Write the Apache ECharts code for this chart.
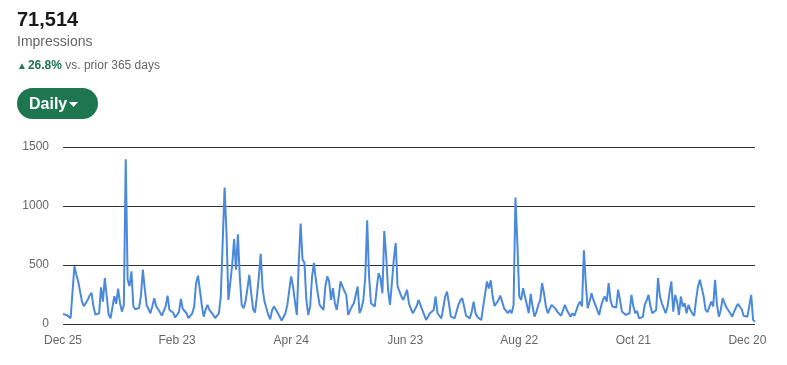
<!DOCTYPE html>
<html>
<head>
<meta charset="utf-8">
<script src="https://cdn.jsdelivr.net/npm/echarts@6/dist/echarts.min.js"></script>
<style>
html,body{margin:0;padding:0;background:#fff;}
#c{width:787px;height:365px;}
</style>
</head>
<body>
<div id="c"></div>
<script>
// Daily impressions, Dec 25 → Dec 24 (365 days)
const startDate = [2022, 11, 25];
const impressions = [
  85,91,75,62,50,48,489,420,360,345,
  190,150,155,205,240,265,150,80,68,90,
  310,190,390,235,80,48,60,235,170,300,
  176,105,160,1397,375,320,446,150,125,130,
  135,240,460,300,160,148,91,150,219,153,
  150,100,71,75,150,241,119,110,95,55,
  48,100,213,128,110,91,50,48,90,148,
  346,409,290,162,62,119,162,120,99,77,
  50,40,90,233,220,1156,772,204,350,500,
  720,460,760,400,162,133,190,300,417,261,
  125,97,233,400,595,300,190,182,77,40,
  119,148,120,125,62,30,60,91,162,165,
  403,318,190,77,517,852,545,520,204,77,
  148,400,517,375,261,162,140,119,318,403,
  361,204,304,176,119,233,361,318,280,247,
  77,77,150,176,190,318,91,133,204,400,
  880,403,176,170,148,300,432,389,261,787,
  574,290,162,346,545,687,318,318,233,204,
  247,290,170,170,90,77,150,204,219,119,
  77,34,50,91,91,119,233,91,70,48,
  133,233,275,176,62,55,48,50,162,200,
  219,148,71,55,48,105,190,91,60,48,
  34,148,250,361,300,370,233,153,153,200,
  241,190,133,120,91,119,91,162,1071,687,
  233,204,304,233,162,91,256,148,62,100,
  162,200,346,261,150,91,77,162,150,130,
  105,91,70,62,162,119,91,62,91,68,
  62,162,190,150,625,346,133,190,261,204,
  162,162,77,148,204,233,190,346,200,148,
  133,140,290,204,105,91,77,85,91,247,
  150,91,110,48,34,60,162,200,247,150,
  91,100,119,389,233,176,176,91,148,261,
  361,105,247,190,77,233,148,176,91,162,
  119,90,68,204,318,375,361,233,119,100,
  91,190,148,375,162,62,119,219,176,140,
  133,91,62,105,140,170,148,125,70,62,
  62,60,247,34,20
];
const tickLabels = ['Dec 25','Feb 23','Apr 24','Jun 23','Aug 22','Oct 21','Dec 20'];
const tickEvery = 60;
const yTicks = [0, 500, 1000, 1500];
const headline = '71,514';
const metricName = 'Impressions';
const change = '26.8%';
const changeText = ' vs. prior 365 days';
const buttonText = 'Daily';

const months = ['Jan','Feb','Mar','Apr','May','Jun','Jul','Aug','Sep','Oct','Nov','Dec'];
const categories = impressions.map((_, i) => {
  const d = new Date(startDate[0], startDate[1], startDate[2] + i);
  return months[d.getMonth()] + ' ' + d.getDate();
});

const FONT = '"Liberation Sans", Arial, Helvetica, sans-serif';
const GREEN = '#1d7650';

const chart = echarts.init(document.getElementById('c'), null, {renderer: 'canvas'});
chart.setOption({
  animation: false,
  backgroundColor: '#ffffff',
  textStyle: {fontFamily: FONT},
  grid: {left: 63, right: 32, top: 147, bottom: 41},
  xAxis: {
    type: 'category',
    data: categories,
    boundaryGap: false,
    axisLine: {show: false},
    axisTick: {show: false},
    splitLine: {show: false},
    axisLabel: {
      interval: (i) => i % tickEvery === 0,
      formatter: (v, i) => tickLabels[Math.round(i / tickEvery)] || v,
      color: '#666666',
      fontSize: 12,
      fontFamily: FONT,
      margin: 11
    }
  },
  yAxis: {
    type: 'value',
    min: yTicks[0],
    max: yTicks[yTicks.length - 1],
    interval: yTicks[1] - yTicks[0],
    axisLine: {show: false},
    axisTick: {show: false},
    splitLine: {show: true, lineStyle: {color: '#333333', width: 1}},
    axisLabel: {color: '#666666', fontSize: 12, fontFamily: FONT, margin: 14,
                formatter: (v) => String(v)}
  },
  series: [{
    type: 'line',
    data: impressions,
    showSymbol: false,
    symbol: 'none',
    lineStyle: {color: '#4a89dc', width: 2},
    z: 3
  }],
  graphic: [
    {type: 'text', left: 17, top: 10,
     style: {text: headline, font: 'bold 20px ' + FONT, fill: '#1a1a1a'}},
    {type: 'text', left: 17, top: 35,
     style: {text: metricName, font: '14px ' + FONT, fill: '#666666'}},
    {type: 'text', left: 17, top: 60,
     style: {
       text: '{up|▲}{pct|' + change + '}{rest|' + changeText + '}',
       rich: {
         up: {fontSize: 10, fill: GREEN, fontFamily: FONT, padding: [0, 1, 0, 0]},
         pct: {fontSize: 12, fontWeight: 'bold', fill: GREEN, fontFamily: FONT},
         rest: {fontSize: 12, fill: '#666666', fontFamily: FONT}
       }
     }},
    {type: 'rect', left: 17, top: 88,
     shape: {width: 81, height: 31, r: 15.5},
     style: {fill: GREEN}},
    {type: 'text', left: 29, top: 97,
     style: {text: buttonText, font: 'bold 16px ' + FONT, fill: '#ffffff'}},
    {type: 'polygon',
     shape: {points: [[69, 102], [78, 102], [73.5, 107]]},
     style: {fill: '#ffffff'}}
  ]
});
</script>
</body>
</html>
